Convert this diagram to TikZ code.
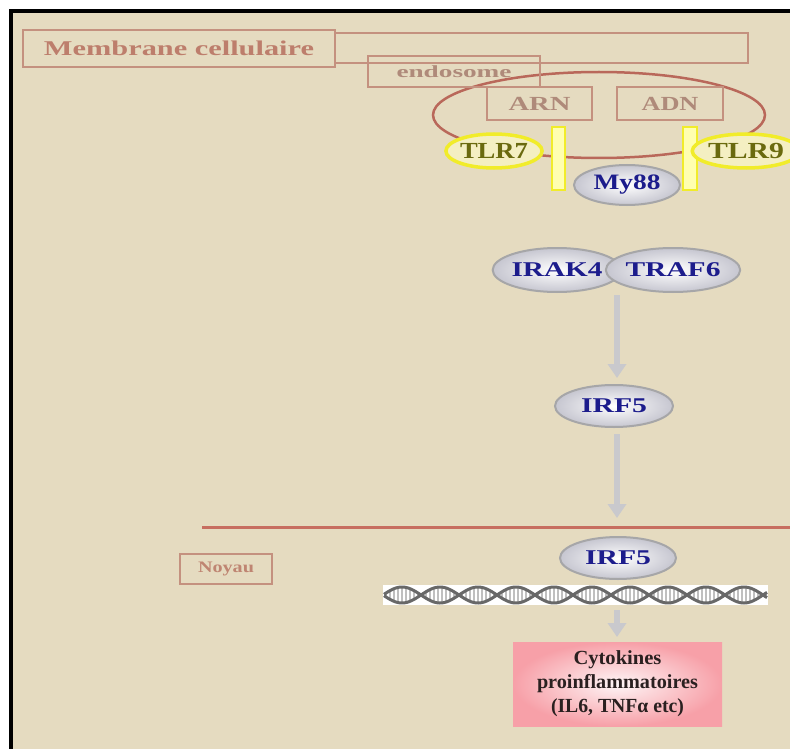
\documentclass[tikz,border=0pt]{standalone}
\usepackage{fontspec}
\setmainfont{Liberation Serif}
\usepackage{graphicx}
\usetikzlibrary{shapes.geometric,arrows.meta}
\definecolor{bgc}{HTML}{E5DBC0}
\definecolor{boxc}{HTML}{C4917F}
\definecolor{memtext}{HTML}{BD7E6C}
\definecolor{endtext}{HTML}{AF8A7A}
\definecolor{noytext}{HTML}{BF8572}
\definecolor{ellc}{HTML}{B9685A}
\definecolor{redline}{HTML}{C76E60}
\definecolor{protblue}{HTML}{1C1C8C}
\definecolor{protedge}{HTML}{A6A6A8}
\definecolor{protout}{HTML}{C6C6D0}
\definecolor{tlredge}{HTML}{F1EC2A}
\definecolor{tlrfill}{HTML}{F4EFC2}
\definecolor{tlrtext}{HTML}{6A6A0E}
\definecolor{barfill}{HTML}{FFFFB0}
\definecolor{arrowc}{HTML}{C9C9CD}
\definecolor{dnac}{HTML}{686868}
\definecolor{pinkc}{HTML}{F7A0A8}
\definecolor{cytotext}{HTML}{2A2020}
\newcommand{\wtxt}[2]{\resizebox{#1pt}{\height}{#2}}
\begin{document}
\begin{tikzpicture}[x=1pt,y=-1pt,
  rbox/.style={draw=boxc, line width=1.6pt, rectangle, inner sep=0pt},
  prot/.style={ellipse, draw=protedge, line width=2pt, inner sep=0pt,
    inner color=white, outer color=protout, text=protblue,
    font=\bfseries\fontsize{21}{21}\selectfont},
  tlr/.style={ellipse, draw=tlredge, line width=3.5pt, fill=tlrfill, inner sep=0pt,
    text=tlrtext, font=\bfseries\fontsize{23}{23}\selectfont},
  garrow/.style={draw=arrowc, line width=6pt, -{Triangle[width=18pt,length=14pt,fill=arrowc]}},
  bar/.style={draw=tlredge, line width=2pt, fill=barfill}
]
\useasboundingbox (0,0) rectangle (790,749);
\fill[white] (0,0) rectangle (790,749);
\fill[bgc] (11,11) rectangle (790,749);
\draw[line width=4pt] (11,749) -- (11,11) -- (790,11);

% cell membrane label and band
\node[rbox, minimum width=312pt, minimum height=37pt, text=memtext,
  font=\bfseries\fontsize{21}{21}\selectfont] (mem) at (179,48.5) {\wtxt{270}{Membrane cellulaire}};
\draw[draw=boxc, line width=1.6pt] (mem.east |- 0,33) -- (748,33) -- (748,63) -- (mem.east |- 0,63);

% endosome
\draw[draw=ellc, line width=2.5pt] (599,115) ellipse [x radius=166pt, y radius=43pt];
\node[rbox, minimum width=172pt, minimum height=31pt, text=endtext,
  font=\bfseries\fontsize{17}{17}\selectfont] (endo) at (454,71.5) {\wtxt{115}{endosome}};
\node[rbox, minimum width=105pt, minimum height=33pt, text=endtext,
  font=\bfseries\fontsize{20}{20}\selectfont] (arn) at (539.5,103.5) {\wtxt{62}{ARN}};
\node[rbox, minimum width=106pt, minimum height=33pt, text=endtext,
  font=\bfseries\fontsize{20}{20}\selectfont] (adn) at (670,103.5) {\wtxt{57}{ADN}};

% receptors
\draw[bar] (552,127) rectangle (565,190);
\draw[bar] (683,127) rectangle (697,190);
\node[tlr, minimum width=90pt, minimum height=34pt] (tlr7) at (494,151) {\wtxt{68}{TLR7}};
\node[tlr, minimum width=88pt, minimum height=34pt] (tlr9) at (746,151) {\wtxt{76}{TLR9}};

% adaptor and kinases
\node[prot, minimum width=106pt, minimum height=40pt, font=\bfseries\fontsize{22}{22}\selectfont] (my88) at (627,185) {\wtxt{67}{My88}};
\node[prot, minimum width=120pt, minimum height=44pt] (irak) at (557,270) {\wtxt{91}{IRAK4}};
\node[prot, minimum width=116pt, minimum height=44pt] (traf) at (673,270) {\wtxt{95}{TRAF6}};
\coordinate (pair) at (617,270);
\node[prot, minimum width=118pt, minimum height=42pt] (irfa) at (614,406) {\wtxt{66}{IRF5}};

\draw[garrow] ([yshift=-25pt]pair) -- (pair |- 0,378);

% nuclear membrane
\coordinate (nucL) at (202,527);
\coordinate (nucR) at (790,527);
\draw[draw=redline, line width=3pt] (nucL) -- (nucR);
\draw[garrow] (pair |- irfa.south) ++(0,6) -- (pair |- 0,518);

\node[rbox, minimum width=92pt, minimum height=30pt, text=noytext,
  font=\bfseries\fontsize{16}{16}\selectfont] (noyau) at (226,569) {\wtxt{56}{Noyau}};

\node[prot, minimum width=116pt, minimum height=42pt] (irfb) at (618,558) {\wtxt{66}{IRF5}};

% DNA
\node[fill=white, minimum width=385pt, minimum height=20pt, inner sep=0pt] (dna) at (575.5,595) {};
\foreach \x in {386,390,...,766} {
  \draw[gray!50, line width=1.6pt] (\x,{595+7*sin((\x-383)*4.737)}) -- (\x,{595-7*sin((\x-383)*4.737)});
}
\draw[dnac, line width=3pt] plot[domain=384:767, samples=200] (\x,{595+8*sin((\x-383)*4.737)});
\draw[dnac, line width=3pt] plot[domain=384:767, samples=200] (\x,{595-8*sin((\x-383)*4.737)});

% cytokines
\node[rectangle, minimum width=209pt, minimum height=84pt, inner sep=0pt,
  inner color=white!90!pinkc, outer color=pinkc, text=cytotext, align=center,
  font=\bfseries\fontsize{20}{24}\selectfont] (cyto) at (617.5,684)
  {\wtxt{88}{Cytokines}\\\wtxt{161}{proinflammatoires}\\\wtxt{133}{(IL6, TNFα etc)}};

\draw[garrow] (pair |- dna.south) ++(0,5) -- (pair |- 0,637);
\end{tikzpicture}
\end{document}
